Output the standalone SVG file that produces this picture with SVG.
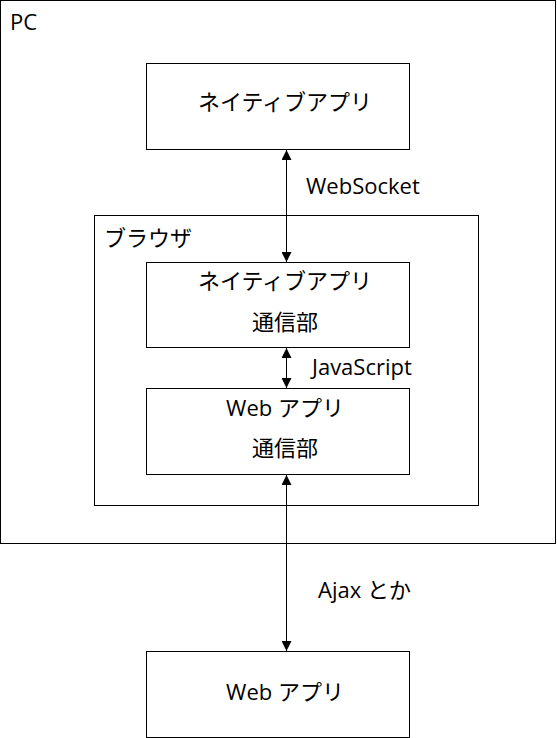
<svg xmlns="http://www.w3.org/2000/svg" width="557" height="738" viewBox="0 0 557 738">
<defs>
<marker id="ah" viewBox="0 0 10 10" refX="10" refY="5" markerWidth="10" markerHeight="10" markerUnits="userSpaceOnUse" orient="auto-start-reverse">
<path d="M0,0 L10,5 L0,10 z" fill="#000"/>
</marker>
<style>
.box{fill:#fff;stroke:#000;stroke-width:1}
.t{font-family:"Open Sans","Noto Sans CJK JP",sans-serif;font-size:22px;fill:#000}
.c{text-anchor:middle}
.conn{stroke:#000;stroke-width:1;fill:none;marker-start:url(#ah);marker-end:url(#ah)}
</style>
</defs>
<g id="pc">
<rect class="box" x="0.5" y="0.5" width="555" height="543"/>
<text class="t" x="10" y="30">PC</text>
</g>
<g id="native-app">
<rect class="box" x="146.5" y="63.5" width="263" height="86"/>
<text class="t c" x="285" y="110">ネイティブアプリ</text>
</g>
<g id="browser">
<rect class="box" x="94.5" y="215.5" width="384" height="290"/>
<text class="t" x="104" y="246">ブラウザ</text>
</g>
<g id="native-comm">
<rect class="box" x="146.5" y="262.5" width="263" height="85"/>
<text class="t c" x="285" y="289">ネイティブアプリ</text>
<text class="t c" x="285" y="330">通信部</text>
</g>
<g id="web-comm">
<rect class="box" x="146.5" y="388.5" width="263" height="86"/>
<text class="t c" x="285" y="416">Web アプリ</text>
<text class="t c" x="285" y="456">通信部</text>
</g>
<g id="web-app">
<rect class="box" x="146.5" y="651.5" width="263" height="86"/>
<text class="t c" x="285" y="700">Web アプリ</text>
</g>
<g id="connectors">
<line class="conn" x1="286.5" y1="150" x2="286.5" y2="262"/>
<line class="conn" x1="286.5" y1="348" x2="286.5" y2="388"/>
<line class="conn" x1="286.5" y1="475" x2="286.5" y2="651"/>
<text class="t" x="306" y="194">WebSocket</text>
<text class="t" x="312" y="375">JavaScript</text>
<text class="t" x="318" y="598">Ajax とか</text>
</g>
</svg>
